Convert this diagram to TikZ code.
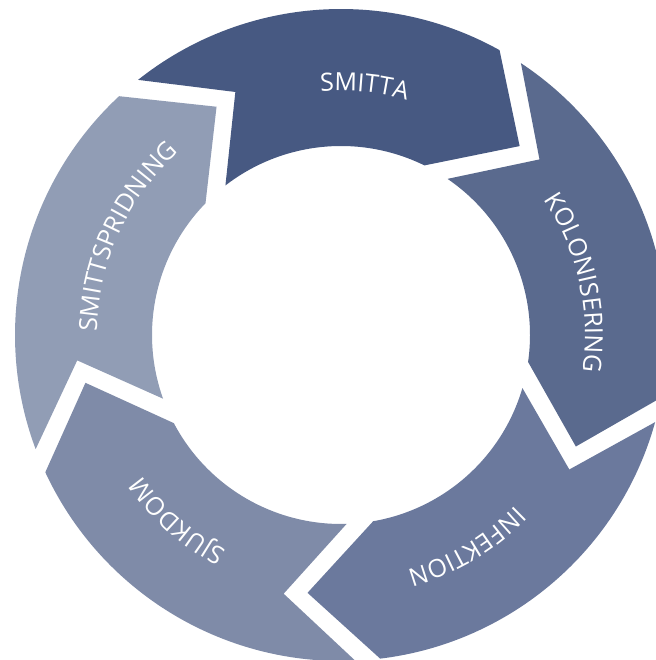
\documentclass[tikz,border=0pt]{standalone}
\usepackage{fontspec}
\newfontfamily\lblfont{Open Sans}
\usetikzlibrary{decorations.text}
\definecolor{cA}{HTML}{475982}
\definecolor{cB}{HTML}{5A6A8E}
\definecolor{cC}{HTML}{6B799D}
\definecolor{cD}{HTML}{7F8BA8}
\definecolor{cE}{HTML}{919DB5}
\newcommand\lblstyle{\lblfont\fontsize{25}{29}\selectfont}
\tikzset{
  lbl/.style={decorate, decoration={text along path, text align=center, text color=white, text={|\lblstyle|#1}}}
}
\begin{document}
\begin{tikzpicture}[x=1pt,y=1pt]
\useasboundingbox (0,0) rectangle (655,660);
\coordinate (C) at (341,325);
\def\Ro{326}
\def\Ri{189}
\foreach \h/\col in {60.9/cA, -11.1/cB, -83.1/cC, -155.1/cD, -227.1/cE} {
  \fill[\col, shift={(C)}] (\h+67.6:\Ro) arc[start angle=\h+67.6, end angle=\h, radius=\Ro]
    -- (\h-14.3:260) -- (\h+2.9:\Ri)
    arc[start angle=\h+2.9, end angle=\h+66.8, radius=\Ri]
    -- (\h+52.6:265) -- cycle;
}
\path[shift={(C)}, lbl=SMITTA] (144.6:244) arc[start angle=144.6, end angle=24.6, radius=244];
\path[shift={(C)}, lbl=KOLONISERING] (72.6:244) arc[start angle=72.6, end angle=-47.4, radius=244];
\path[shift={(C)}, lbl=INFEKTION] (0.6:244) arc[start angle=0.6, end angle=-119.4, radius=244];
\path[shift={(C)}, lbl=SJUKDOM] (-71.4:244) arc[start angle=-71.4, end angle=-191.4, radius=244];
\path[shift={(C)}, lbl=SMITTSPRIDNING] (215.4:244) arc[start angle=215.4, end angle=95.4, radius=244];
\end{tikzpicture}
\end{document}
